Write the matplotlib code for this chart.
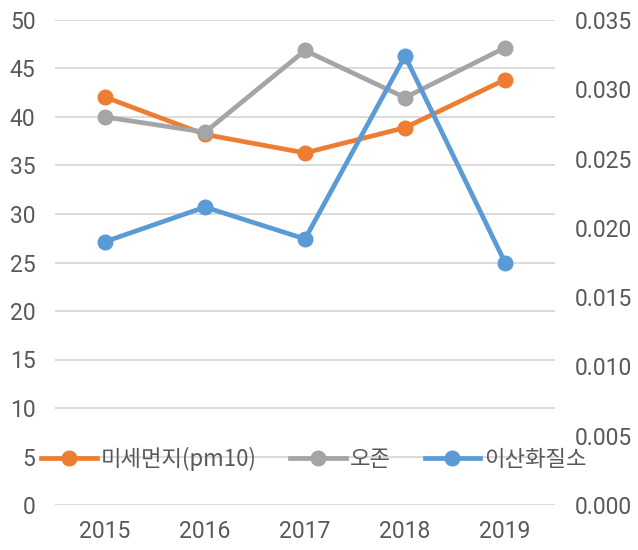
import matplotlib.pyplot as plt

plt.rcParams['font.family'] = ['Roboto', 'Noto Sans CJK KR', 'DejaVu Sans']

years = ['2015', '2016', '2017', '2018', '2019']
pm10 = [42.05, 38.2, 36.3, 38.9, 43.85]          # left axis
ozone = [0.0280, 0.0269, 0.0328, 0.0294, 0.0330]  # right axis
no2 = [0.0190, 0.0215, 0.0192, 0.0324, 0.0175]    # right axis

c_pm = '#ED7D31'
c_o3 = '#A5A5A5'
c_no2 = '#5B9BD5'
txt = '#595959'

fig = plt.figure(figsize=(6.38, 5.5), dpi=100)
ax1 = fig.add_axes([55/638, 45/550, 500/638, 485/550])
ax2 = ax1.twinx()

x = range(len(years))
l1, = ax1.plot(x, pm10, color=c_pm, lw=3.4, marker='o', ms=10.5, label='미세먼지(pm10)')
l2, = ax2.plot(x, ozone, color=c_o3, lw=3.4, marker='o', ms=10.5, label='오존')
l3, = ax2.plot(x, no2, color=c_no2, lw=3.4, marker='o', ms=10.5, label='이산화질소')

ax1.set_xlim(-0.5, 4.5)
ax1.set_ylim(0, 50)
ax1.set_yticks(range(0, 51, 5))
ax2.set_ylim(0, 0.035)
ax2.set_yticks([i * 0.005 for i in range(8)])
ax2.set_yticklabels(['%.3f' % (i * 0.005) for i in range(8)])
ax1.set_xticks(list(x))
ax1.set_xticklabels(years)

ax1.grid(axis='y', color='#D9D9D9', lw=1.3)
ax1.set_axisbelow(True)
for a in (ax1, ax2):
    for s in a.spines.values():
        s.set_visible(False)
ax1.tick_params(axis='y', length=0, pad=14, labelsize=16.5, labelcolor=txt)
ax1.tick_params(axis='x', length=0, pad=11, labelsize=16.5, labelcolor=txt)
ax2.tick_params(axis='y', length=0, pad=14, labelsize=16.5, labelcolor=txt)

leg = fig.legend(handles=[l1, l2, l3], loc='center left',
                 bbox_to_anchor=(41/638, 91/550), ncol=3, frameon=False,
                 handlelength=2.5, handletextpad=0.2, columnspacing=1.5,
                 borderaxespad=0, borderpad=0,
                 prop={'family': ['Noto Sans CJK KR', 'DejaVu Sans'], 'size': 16})
for t in leg.get_texts():
    t.set_color(txt)

fig.savefig('out.png', dpi=100)
